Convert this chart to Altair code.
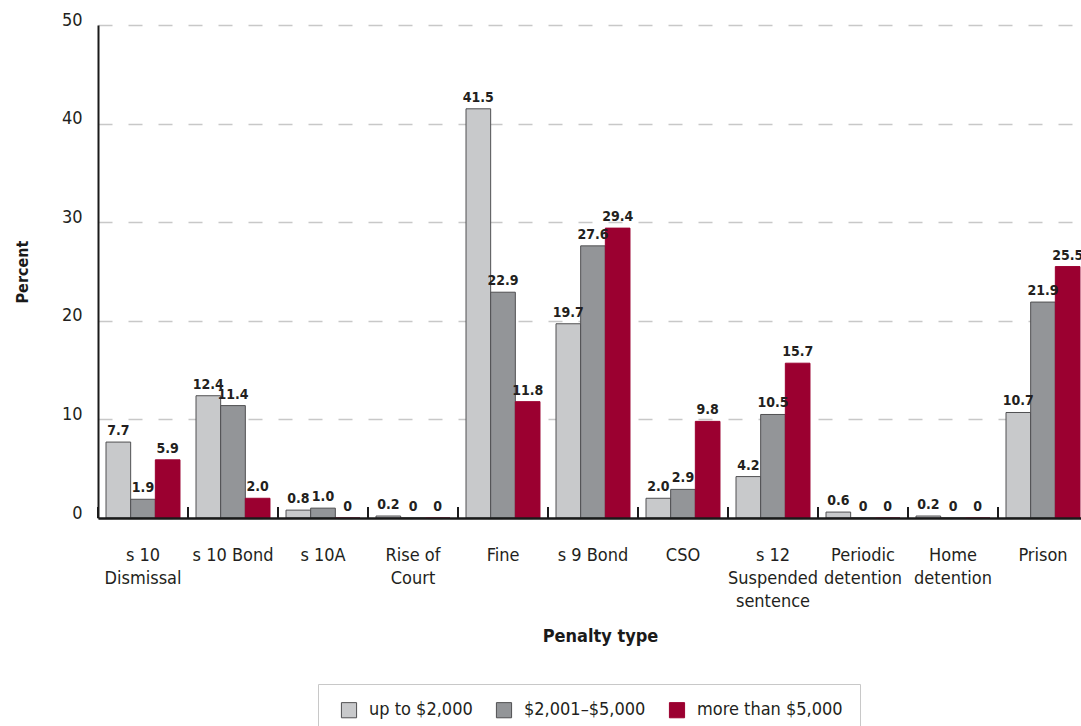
import altair as alt
import pandas as pd

# Penalty categories ("|" marks a line break in the axis label)
penalties = [
    "s 10|Dismissal", "s 10 Bond", "s 10A", "Rise of|Court", "Fine", "s 9 Bond",
    "CSO", "s 12|Suspended|sentence", "Periodic|detention", "Home|detention", "Prison",
]
bands = ["up to $2,000", "$2,001–$5,000", "more than $5,000"]

# Percent of offenders receiving each penalty, by amount involved
up_to_2000 = [7.7, 12.4, 0.8, 0.2, 41.5, 19.7, 2.0, 4.2, 0.6, 0.2, 10.7]
from_2001_to_5000 = [1.9, 11.4, 1.0, 0.0, 22.9, 27.6, 2.9, 10.5, 0.0, 0.0, 21.9]
more_than_5000 = [5.9, 2.0, 0.0, 0.0, 11.8, 29.4, 9.8, 15.7, 0.0, 0.0, 25.5]

y_ticks = [0, 10, 20, 30, 40, 50]

rows = []
for i, p in enumerate(penalties):
    for b, series in zip(bands, [up_to_2000, from_2001_to_5000, more_than_5000]):
        v = series[i]
        rows.append({"penalty": p, "band": b, "percent": v,
                     "label": "0" if v == 0 else f"{v:.1f}"})
df = pd.DataFrame(rows)
groups = pd.DataFrame({"penalty": penalties})

FONT = "DejaVu Sans Condensed, Liberation Sans, sans-serif"
fill_colors = ["#c8c9cb", "#939598", "#9b0030"]
stroke_colors = ["#505052", "#505052", "#9b0030"]

PLOT_W = 983
PLOT_H = 493
GROUP_RANGE = 990

x_scale = alt.Scale(range=[0, GROUP_RANGE], paddingInner=0, paddingOuter=0)

x_axis = alt.Axis(
    title="Penalty type",
    titleFontSize=18, titleFontWeight="bold", titleColor="#1a1a1a",
    titleX=502, titleY=118, titleBaseline="middle", titleAlign="center",
    labelExpr="split(datum.label, '|')",
    labelAngle=0, labelFontSize=18, labelColor="#231f20",
    labelLineHeight=23, labelPadding=42, labelBaseline="alphabetic",
    ticks=False, domainColor="#1a1a1a", domainWidth=2.5,
    zindex=1,
)

y_axis = alt.Axis(
    title="Percent",
    titleFontSize=16, titleFontWeight="bold", titleColor="#1a1a1a",
    titleX=-76, titleY=PLOT_H / 2, titleBaseline="middle", titleAlign="center",
    values=y_ticks, ticks=False,
    labelFontSize=18, labelColor="#231f20", labelPadding=16,
    labelBaseline="alphabetic",
    grid=True, gridColor="#c8c8c8", gridDash=[14, 16], gridWidth=1.5,
    domainColor="#1a1a1a", domainWidth=2,
)

legend = alt.Legend(
    title=None, orient="none", legendX=220, legendY=659,
    direction="horizontal", columns=3,
    symbolType="square", symbolSize=230, symbolStrokeWidth=1, symbolOffset=5,
    labelFontSize=18, labelColor="#231f20", labelOffset=11,
    columnPadding=17, padding=17,
    strokeColor="#c8c8c8", fillColor="#ffffff",
)

base = alt.Chart(df)

bars = base.mark_bar(strokeWidth=1).encode(
    x=alt.X("penalty:N", sort=penalties, scale=x_scale, axis=x_axis),
    xOffset=alt.XOffset("band:N", sort=bands,
                        scale=alt.Scale(paddingInner=0, paddingOuter=0.325)),
    y=alt.Y("percent:Q", scale=alt.Scale(domain=[0, 50]), axis=y_axis),
    fill=alt.Fill("band:N", sort=bands,
                  scale=alt.Scale(domain=bands, range=fill_colors), legend=legend),
    stroke=alt.Stroke("band:N", sort=bands,
                      scale=alt.Scale(domain=bands, range=stroke_colors), legend=legend),
)

labels = base.mark_text(
    baseline="alphabetic", dy=-7, fontSize=14, fontWeight="bold", color="#231f20",
).encode(
    x=alt.X("penalty:N", sort=penalties),
    xOffset=alt.XOffset("band:N", sort=bands),
    y=alt.Y("percent:Q"),
    text="label:N",
)

# Small upward tick marks separating the penalty groups on the baseline
separators = alt.Chart(groups).mark_rule(color="#1a1a1a", strokeWidth=2).encode(
    x=alt.X("penalty:N", sort=penalties, bandPosition=0),
    y=alt.value(PLOT_H - 11),
    y2=alt.value(PLOT_H),
)

chart = (
    alt.layer(bars, labels, separators)
    .properties(
        width=PLOT_W, height=PLOT_H,
        autosize=alt.AutoSizeParams(type="none"),
        padding={"left": 98, "top": 25, "right": 0, "bottom": 208},
        background="#ffffff",
    )
    .configure(font=FONT)
    .configure_view(stroke=None)
)

chart.save("out.html", embed_options={"renderer": "svg", "actions": False})
